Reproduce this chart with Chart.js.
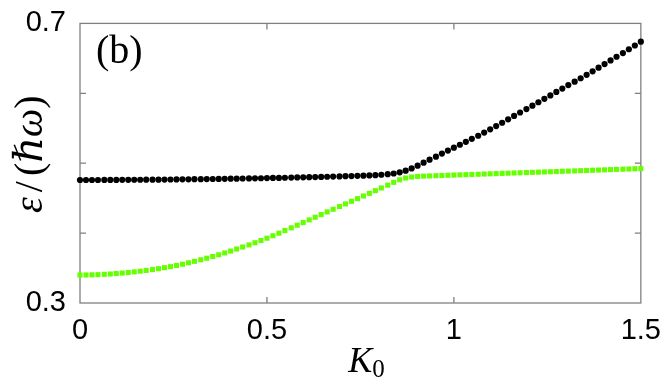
<!DOCTYPE html>
<html><head><meta charset="utf-8">
<script src="https://cdn.jsdelivr.net/npm/chart.js@4.4.1/dist/chart.umd.min.js"></script>
<style>html,body{margin:0;padding:0;background:#fff}#wrap{width:664px;height:381px;position:relative}</style>
</head><body><div id="wrap"><canvas id="c"></canvas></div>
<script>
const k0 = [
0, 0.016, 0.032, 0.048, 0.065, 0.081, 0.097, 0.113, 0.129, 0.145,
0.161, 0.177, 0.194, 0.210, 0.226, 0.242, 0.258, 0.274, 0.290, 0.306,
0.323, 0.339, 0.355, 0.371, 0.387, 0.403, 0.419, 0.435, 0.452, 0.468,
0.484, 0.500, 0.516, 0.532, 0.548, 0.565, 0.581, 0.597, 0.613, 0.629,
0.645, 0.661, 0.677, 0.694, 0.710, 0.726, 0.742, 0.758, 0.774, 0.790,
0.806, 0.823, 0.839, 0.855, 0.871, 0.887, 0.903, 0.919, 0.935, 0.952,
0.968, 0.984, 1.000, 1.016, 1.032, 1.048, 1.065, 1.081, 1.097, 1.113,
1.129, 1.145, 1.161, 1.177, 1.194, 1.210, 1.226, 1.242, 1.258, 1.274,
1.290, 1.306, 1.323, 1.339, 1.355, 1.371, 1.387, 1.403, 1.419, 1.435,
1.452, 1.468, 1.484, 1.500];

const upperBranch = [
0.4760,0.4760,0.4760,0.4760,0.4761,0.4761,0.4761,0.4762,0.4762,0.4763,
0.4763,0.4764,0.4765,0.4765,0.4766,0.4767,0.4768,0.4769,0.4770,0.4771,
0.4772,0.4773,0.4774,0.4775,0.4777,0.4778,0.4779,0.4781,0.4782,0.4784,
0.4785,0.4787,0.4789,0.4790,0.4792,0.4794,0.4796,0.4798,0.4800,0.4802,
0.4804,0.4806,0.4809,0.4811,0.4814,0.4816,0.4819,0.4822,0.4825,0.4828,
0.4835,0.4843,0.4853,0.4870,0.4893,0.4925,0.4965,0.5008,0.5051,0.5094,
0.5137,0.5180,0.5222,0.5264,0.5306,0.5349,0.5393,0.5438,0.5484,0.5531,
0.5579,0.5627,0.5676,0.5725,0.5774,0.5823,0.5872,0.5921,0.5970,0.6019,
0.6068,0.6117,0.6166,0.6215,0.6265,0.6315,0.6366,0.6418,0.6470,0.6523,
0.6576,0.6630,0.6684,0.6738];

const lowerBranch = [
0.3400,0.3401,0.3403,0.3406,0.3410,0.3415,0.3421,0.3428,0.3436,0.3445,
0.3455,0.3466,0.3478,0.3491,0.3505,0.3520,0.3537,0.3555,0.3575,0.3596,
0.3618,0.3641,0.3665,0.3690,0.3716,0.3743,0.3772,0.3801,0.3831,0.3862,
0.3894,0.3927,0.3962,0.3999,0.4037,0.4075,0.4113,0.4151,0.4189,0.4227,
0.4265,0.4303,0.4341,0.4379,0.4417,0.4455,0.4493,0.4531,0.4569,0.4607,
0.4646,0.4686,0.4726,0.4762,0.4788,0.4802,0.4810,0.4815,0.4818,0.4821,
0.4824,0.4827,0.4830,0.4833,0.4836,0.4839,0.4842,0.4845,0.4848,0.4851,
0.4854,0.4857,0.4860,0.4863,0.4866,0.4869,0.4872,0.4875,0.4878,0.4881,
0.4884,0.4887,0.4890,0.4893,0.4896,0.4899,0.4902,0.4905,0.4908,0.4911,
0.4914,0.4917,0.4920,0.4923];

const xTicks = [0, 0.5, 1, 1.5];
const xTickLabels = ['0', '0.5', '1', '1.5'];
const yTicks = [0.3, 0.4, 0.5, 0.6, 0.7];
const yTickLabels = ['0.3', '', '', '', '0.7'];
const xTitleParts = [['K', 'italic', 0], ['0', 'sub', 0]];
const yTitleParts = [['\u03B5', 'italic', 0], ['/', 'normal', 5], ['(', 'normal', 0], ['\u210F', 'italic', 0], ['\u03C9', 'italic', 0], [')', 'normal', 0]];
const panelLabel = '(b)';

const toPoints = (ys) => k0.map((x, i) => ({ x: x, y: ys[i] }));

const SERIF = '"Liberation Serif", "DejaVu Serif", serif';
function partFont(style, size) {
  if (style === 'italic') return 'italic ' + size + 'px ' + SERIF;
  if (style === 'sub') return Math.round(size * 0.7) + 'px ' + SERIF;
  return size + 'px ' + SERIF;
}
function drawParts(ctx, parts, size, subShift) {
  let total = 0;
  const w = parts.map(p => { ctx.font = partFont(p[1], size); const m = ctx.measureText(p[0]).width + 2 * p[2]; total += m; return m; });
  let x = -total / 2;
  parts.forEach((p, i) => {
    ctx.font = partFont(p[1], size);
    ctx.fillText(p[0], x + p[2], p[1] === 'sub' ? subShift : 0);
    x += w[i];
  });
}

const framePlugin = {
  id: 'frame',
  beforeDatasetsDraw(chart) {
    const { ctx, chartArea: a, scales } = chart;
    const sx = scales.x, sy = scales.y;
    ctx.save();
    ctx.strokeStyle = '#808080';
    ctx.lineWidth = 1.3;
    ctx.strokeRect(a.left, a.top, a.right - a.left, a.bottom - a.top);
    ctx.beginPath();
    const L = 6;
    xTicks.forEach(v => {
      const p = sx.getPixelForValue(v);
      if (p > a.left + 1 && p < a.right - 1) {
        ctx.moveTo(p, a.bottom); ctx.lineTo(p, a.bottom - L);
        ctx.moveTo(p, a.top); ctx.lineTo(p, a.top + L);
      }
    });
    yTicks.forEach(v => {
      const p = sy.getPixelForValue(v);
      if (p > a.top + 1 && p < a.bottom - 1) {
        ctx.moveTo(a.left, p); ctx.lineTo(a.left + L, p);
        ctx.moveTo(a.right, p); ctx.lineTo(a.right - L, p);
      }
    });
    ctx.stroke();
    ctx.fillStyle = '#000';
    ctx.textBaseline = 'alphabetic';
    ctx.textAlign = 'left';
    ctx.font = '40px ' + SERIF;
    ctx.fillText(panelLabel, a.left + 16, a.top + 40);
    // x title
    ctx.save();
    ctx.translate((a.left + a.right) / 2 + 6, 372);
    drawParts(ctx, xTitleParts, 36, 5);
    ctx.restore();
    // y title
    ctx.save();
    ctx.translate(42, (a.top + a.bottom) / 2 - 9);
    ctx.rotate(-Math.PI / 2);
    drawParts(ctx, yTitleParts, 40, 0);
    ctx.restore();
    ctx.restore();
  }
};

new Chart(document.getElementById('c'), {
  type: 'scatter',
  data: {
    datasets: [
      {
        label: 'lower',
        data: toPoints(lowerBranch),
        pointStyle: 'rect',
        pointRadius: 3.6,
        pointBorderWidth: 0,
        backgroundColor: '#66ff00',
        borderColor: '#66ff00',
        showLine: false,
        clip: false
      },
      {
        label: 'upper',
        data: toPoints(upperBranch),
        pointStyle: 'circle',
        pointRadius: 3.1,
        pointBorderWidth: 0,
        backgroundColor: '#000000',
        borderColor: '#000000',
        showLine: false,
        clip: false
      }
    ]
  },
  options: {
    responsive: true,
    maintainAspectRatio: false,
    animation: false,
    events: [],
    layout: { padding: { top: 15, right: 20, left: 0, bottom: 0 } },
    plugins: { legend: { display: false }, tooltip: { enabled: false } },
    scales: {
      x: {
        type: 'linear', min: 0, max: 1.5,
        afterBuildTicks(s) { s.ticks = xTicks.map(v => ({ value: v })); },
        afterFit(s) { s.height = 78; },
        grid: { display: false },
        border: { display: false },
        ticks: {
          color: '#000', padding: 3, maxRotation: 0, autoSkip: false,
          font: { family: '"Liberation Sans", Arial', size: 29 },
          callback: (v, i) => xTickLabels[i]
        }
      },
      y: {
        type: 'linear', min: 0.3, max: 0.7,
        afterBuildTicks(s) { s.ticks = yTicks.map(v => ({ value: v })); },
        afterFit(s) { s.width = 80; },
        grid: { display: false },
        border: { display: false },
        ticks: {
          color: '#000', padding: 6, autoSkip: false,
          font: { family: '"Liberation Sans", Arial', size: 29 },
          callback: (v, i) => yTickLabels[i]
        }
      }
    }
  },
  plugins: [framePlugin]
});
</script>
</body></html>
